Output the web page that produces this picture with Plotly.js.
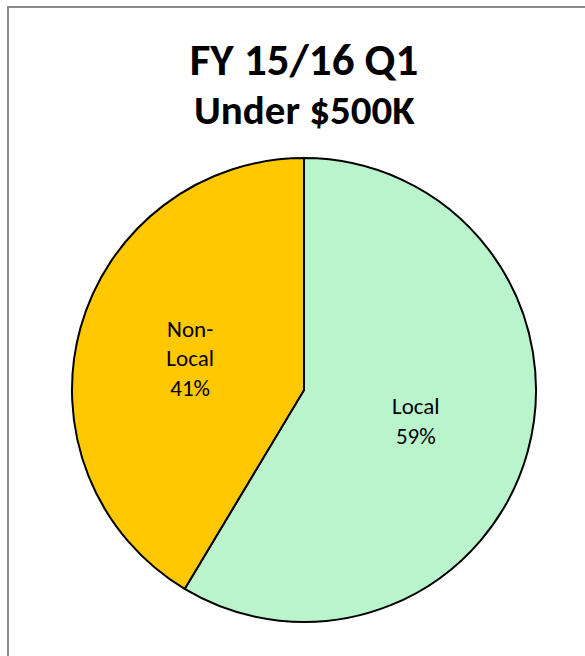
<!DOCTYPE html>
<html>
<head>
<meta charset="utf-8">
<script src="https://cdn.plot.ly/plotly-3.0.1.min.js"></script>
<style>html,body{margin:0;padding:0;background:#fff;}#chart{width:585px;height:656px;}</style>
</head>
<body>
<div id="chart"></div>
<script>
const categories = ['Local', 'Non-Local'];
const sliceText = ['Local', 'Non-<br>Local'];
const values = [58.6, 41.4];
const colors = ['#B9F4CD', '#FFC800'];
const titleLine1 = 'FY 15/16 Q1';
const titleLine2 = 'Under $500K';

const W = 585, H = 656;
const cx = 304, cy = 390, r = 232;
const FONT = 'Carlito, Calibri, Lato, sans-serif';

const trace = {
  type: 'pie',
  labels: categories,
  values: values,
  text: sliceText,
  texttemplate: '%{text}<br>%{percent:.0%}',
  textinfo: 'text',
  textposition: 'inside',
  insidetextorientation: 'horizontal',
  sort: false,
  direction: 'clockwise',
  rotation: 0,
  marker: {colors: colors, line: {color: '#000000', width: 2}},
  textfont: {family: FONT, size: 23, color: '#000000'},
  domain: {x: [(cx - r) / W, (cx + r) / W], y: [(H - cy - r) / H, (H - cy + r) / H]},
  hoverinfo: 'label+percent',
  showlegend: false
};

const layout = {
  width: W, height: H,
  margin: {l: 0, r: 0, t: 0, b: 0},
  paper_bgcolor: '#ffffff',
  showlegend: false,
  title: {
    text: '<b>' + titleLine1 + '</b>',
    font: {family: FONT, size: 45, color: '#000000'},
    x: 304 / W, xanchor: 'center',
    y: 1 - 59 / H, yanchor: 'middle', yref: 'container'
  },
  annotations: [{
    text: '<b>' + titleLine2 + '</b>',
    xref: 'paper', yref: 'paper',
    x: 304 / W, y: 1 - 110 / H, xanchor: 'center', yanchor: 'middle',
    showarrow: false,
    font: {family: FONT, size: 41, color: '#000000'}
  }],
  shapes: [{
    type: 'rect', xref: 'paper', yref: 'paper',
    x0: 8 / W, x1: 1.02, y0: -0.02, y1: 1 - 7 / H,
    line: {color: '#898989', width: 2}, fillcolor: 'rgba(0,0,0,0)', layer: 'below'
  }]
};

Plotly.newPlot('chart', [trace], layout, {displayModeBar: false, staticPlot: true});
</script>
</body>
</html>
